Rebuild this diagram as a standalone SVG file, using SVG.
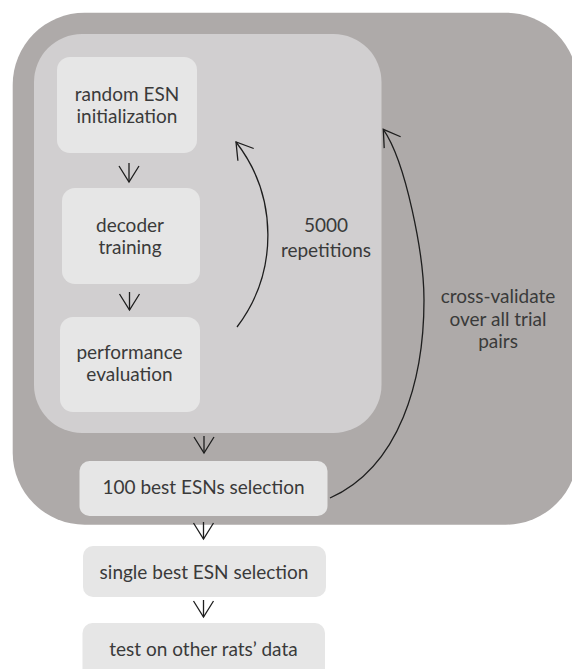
<svg xmlns="http://www.w3.org/2000/svg" width="572" height="669" viewBox="0 0 572 669">
<style>
.outer{fill:#aeaaa9}
.inner{fill:#d1cfd0}
.node rect{fill:#e6e6e6}
text{font-family:Lato,"Liberation Sans",sans-serif;font-size:19px;fill:#3a3a3a;text-anchor:middle}
.conn path,.conn line{fill:none;stroke:#1e1e1e;stroke-width:1.3;marker-end:url(#ah)}
</style>
<defs>
<marker id="ah" markerUnits="userSpaceOnUse" viewBox="-18 -12 20 24" refX="0" refY="0" markerWidth="20" markerHeight="24" orient="auto" overflow="visible">
<path d="M-16,-10 L0,0 L-16,10" fill="none" stroke="#1e1e1e" stroke-width="1.3"/>
</marker>
</defs>
<g id="outer-loop"><rect class="outer" x="12.7" y="12.7" width="565" height="512" rx="72" ry="72"/></g>
<g id="inner-loop"><rect class="inner" x="34" y="34" width="347.5" height="399" rx="48" ry="48"/></g>
<g id="node-init" class="node"><rect x="57" y="57" width="140" height="96" rx="13"/><text x="127" y="101">random ESN</text><text x="127" y="123">initialization</text></g>
<g id="node-train" class="node"><rect x="62" y="188" width="138" height="96" rx="13"/><text x="130" y="232">decoder</text><text x="130" y="254">training</text></g>
<g id="node-eval" class="node"><rect x="60" y="317" width="140" height="95" rx="13"/><text x="129.5" y="359">performance</text><text x="129.5" y="381">evaluation</text></g>
<g id="node-best100" class="node"><rect x="79.5" y="461" width="248" height="55" rx="10"/><text x="203.5" y="494">100 best ESNs selection</text></g>
<g id="node-single" class="node"><rect x="83" y="546" width="243" height="51" rx="10"/><text x="204" y="579">single best ESN selection</text></g>
<g id="node-test" class="node"><rect x="82.5" y="623" width="242.5" height="60" rx="10"/><text x="203.5" y="656">test on other rats’ data</text></g>
<g id="label-rep"><text x="326" y="232">5000</text><text x="326" y="257">repetitions</text></g>
<g id="label-cv"><text x="498" y="303">cross-validate</text><text x="498" y="326">over all trial</text><text x="498" y="348">pairs</text></g>
<g id="connectors" class="conn">
<line x1="129" y1="163" x2="129" y2="182"/>
<line x1="129.5" y1="292" x2="129.5" y2="310"/>
<line x1="204" y1="436" x2="204" y2="453"/>
<line x1="203.5" y1="522" x2="203.5" y2="539"/>
<line x1="203.5" y1="600" x2="203.5" y2="617"/>
<path d="M237,327 A152,152 0 0 0 236,142"/>
<path d="M330,498 C400,466.5 424,380 424,300 C424,255 406,162 383.3,129.3"/>
</g>
</svg>
